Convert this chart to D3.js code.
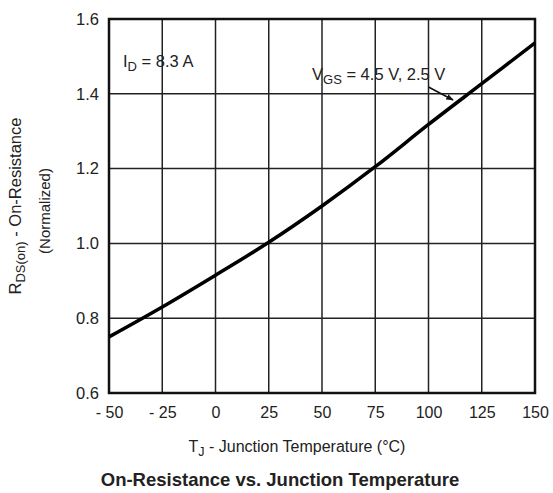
<!DOCTYPE html>
<html>
<head>
<meta charset="utf-8">
<script src="https://cdn.jsdelivr.net/npm/d3@7"></script>
<style>
  body { margin: 0; background: #fff; }
  text { font-family: "Liberation Sans", Arial, sans-serif; fill: #222; }
</style>
</head>
<body>
<div class="chartcontainer"></div>
<script>
const temps = [-50, -25, 0, 25, 50, 75, 100, 125, 150]
const rdsOn = [0.75, 0.83, 0.915, 1.003, 1.1, 1.205, 1.318, 1.427, 1.536]
const xTicks = [-50, -25, 0, 25, 50, 75, 100, 125, 150]
const yTicks = [0.6, 0.8, 1.0, 1.2, 1.4, 1.6]

const w = 553
const h = 493
const pLeft = 109, pRight = 535, pTop = 19, pBottom = 393

const xScale = d3.scaleLinear().domain([-50, 150]).range([pLeft, pRight])
const yScale = d3.scaleLinear().domain([0.6, 1.6]).range([pBottom, pTop])

const svg = d3.select('.chartcontainer')
    .append('svg')
    .attr('width', w)
    .attr('height', h)

// grid
svg.append('g')
    .selectAll('line')
    .data(xTicks)
    .enter()
    .append('line')
    .attr('x1', d => xScale(d)).attr('x2', d => xScale(d))
    .attr('y1', pTop).attr('y2', pBottom)
    .attr('stroke', '#222').attr('stroke-width', 1.5)

svg.append('g')
    .selectAll('line')
    .data(yTicks)
    .enter()
    .append('line')
    .attr('x1', pLeft).attr('x2', pRight)
    .attr('y1', d => yScale(d)).attr('y2', d => yScale(d))
    .attr('stroke', '#222').attr('stroke-width', 1.5)

// frame
svg.append('rect')
    .attr('x', pLeft).attr('y', pTop)
    .attr('width', pRight - pLeft).attr('height', pBottom - pTop)
    .attr('fill', 'none').attr('stroke', '#111').attr('stroke-width', 2.5)

// axes (labels only)
const xAxis = d3.axisBottom(xScale).tickValues(xTicks).tickSize(0).tickPadding(14)
    .tickFormat(d => d < 0 ? '- ' + Math.abs(d) : d)
const yAxis = d3.axisLeft(yScale).tickValues(yTicks).tickSize(0).tickPadding(10)
    .tickFormat(d3.format('.1f'))

svg.append('g')
    .attr('transform', 'translate(0,' + pBottom + ')')
    .call(xAxis)
    .call(g => g.select('.domain').remove())
    .selectAll('text')
    .attr('font-size', 16).attr('fill', '#222')
    .style('font-family', '"Liberation Sans", Arial, sans-serif')

svg.append('g')
    .attr('transform', 'translate(' + pLeft + ',0)')
    .call(yAxis)
    .call(g => g.select('.domain').remove())
    .selectAll('text')
    .attr('font-size', 16.5).attr('fill', '#222')
    .style('font-family', '"Liberation Sans", Arial, sans-serif')

// curve
const line = d3.line()
    .x((d, i) => xScale(temps[i]))
    .y(d => yScale(d))
    .curve(d3.curveCatmullRom)

svg.append('path')
    .datum(rdsOn)
    .attr('d', line)
    .attr('fill', 'none')
    .attr('stroke', '#000')
    .attr('stroke-width', 3.5)

// annotations
const id = svg.append('text').attr('x', 123).attr('y', 67).attr('font-size', 16.5)
id.append('tspan').text('I')
id.append('tspan').text('D').attr('font-size', 13).attr('dy', 4)
id.append('tspan').text(' = 8.3 A').attr('dy', -4)

const vgs = svg.append('text').attr('x', 312).attr('y', 80).attr('font-size', 16.5)
vgs.append('tspan').text('V')
vgs.append('tspan').text('GS').attr('font-size', 13).attr('dy', 4)
vgs.append('tspan').text(' = 4.5 V, 2.5 V').attr('dy', -4)

svg.append('defs').append('marker')
    .attr('id', 'arrow')
    .attr('viewBox', '0 0 10 10')
    .attr('refX', 9).attr('refY', 5)
    .attr('markerWidth', 5).attr('markerHeight', 5)
    .attr('orient', 'auto')
    .append('path').attr('d', 'M0,1 L10,5 L0,9 z').attr('fill', '#111')

svg.append('line')
    .attr('x1', xScale(100)).attr('y1', 87)
    .attr('x2', xScale(111.5)).attr('y2', 100)
    .attr('stroke', '#111').attr('stroke-width', 1.5)
    .attr('marker-end', 'url(#arrow)')

// axis titles
const xt = svg.append('text').attr('x', 297).attr('y', 452)
    .attr('text-anchor', 'middle').attr('font-size', 16)
xt.append('tspan').text('T')
xt.append('tspan').text('J').attr('font-size', 12.5).attr('dy', 4)
xt.append('tspan').text(' - Junction Temperature (°C)').attr('dy', -4)

const yt = svg.append('text')
    .attr('transform', 'translate(21,206) rotate(-90)')
    .attr('text-anchor', 'middle').attr('font-size', 16.5)
yt.append('tspan').text('R')
yt.append('tspan').text('DS(on)').attr('font-size', 13).attr('dy', 4)
yt.append('tspan').text(' - On-Resistance').attr('dy', -4)

svg.append('text')
    .attr('transform', 'translate(50,211) rotate(-90)')
    .attr('text-anchor', 'middle').attr('font-size', 15)
    .text('(Normalized)')

svg.append('text')
    .attr('x', 280).attr('y', 486)
    .attr('text-anchor', 'middle')
    .attr('font-size', 18.5).attr('font-weight', 'bold')
    .attr('fill', '#111')
    .text('On-Resistance vs. Junction Temperature')
</script>
</body>
</html>
